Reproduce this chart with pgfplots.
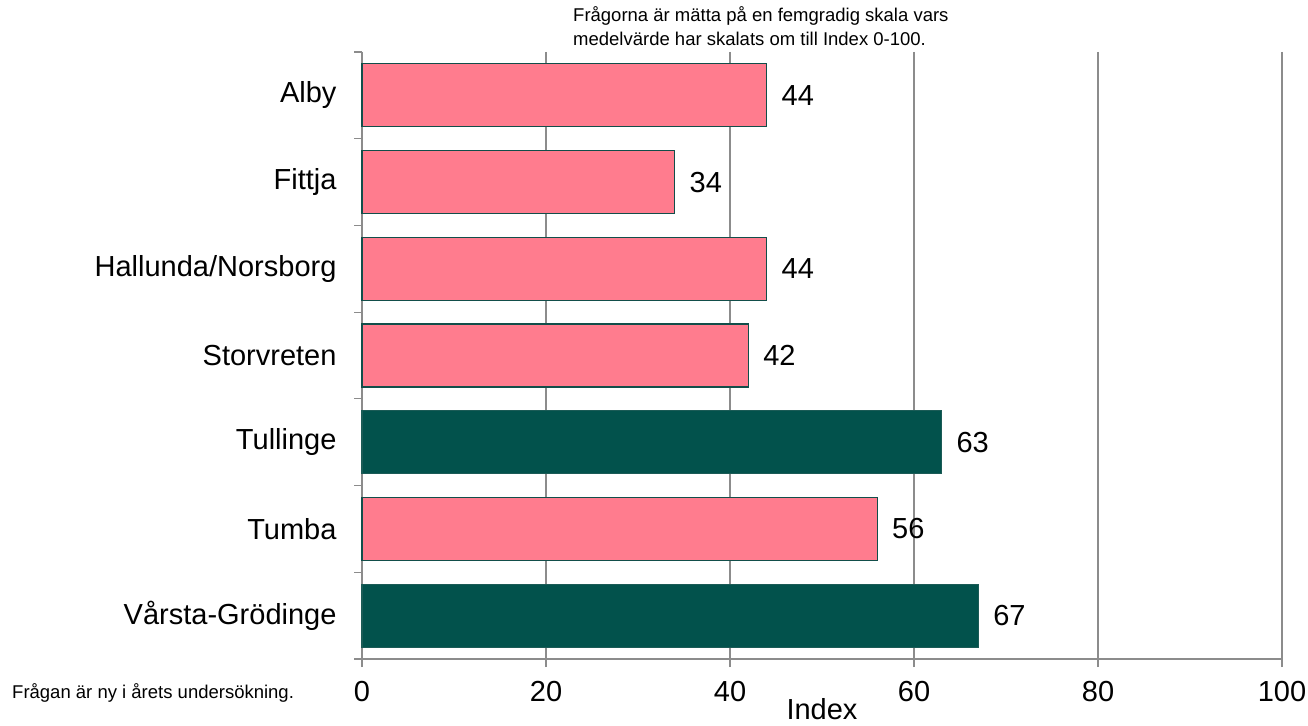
\documentclass[border=0pt]{standalone}
\usepackage{fontspec}
\setmainfont{Liberation Sans}
\usepackage{pgfplots}
\pgfplotsset{compat=1.18}
\definecolor{pinkbar}{RGB}{255,124,142}
\definecolor{greenbar}{RGB}{2,82,76}
\definecolor{edge}{RGB}{18,78,74}
\definecolor{gridgray}{RGB}{140,140,140}
\begin{document}
\begin{tikzpicture}[x=1pt,y=1pt]
\useasboundingbox (0,0) rectangle (1308,725);
\begin{axis}[
  at={(362pt,66pt)}, anchor=south west,
  scale only axis, width=920pt, height=607pt,
  /pgf/number format/assume math mode=true,
  xmin=0, xmax=100, ymin=-0.5, ymax=6.5, y dir=reverse,
  axis lines*=left,
  axis line style={gridgray, line width=1.2pt},
  xtick={0,20,...,100},
  xmajorgrids, grid style={gridgray, line width=1.2pt},
  tick style={gridgray, line width=1.2pt},
  major tick length=8pt, tick align=outside,
  ytick={-0.5,0.5,...,6.5}, yticklabels={},
  extra y ticks={0,1,2,3,4,5,6},
  extra y tick labels={Alby,Fittja,Hallunda/Norsborg,Storvreten,Tullinge,Tumba,Vårsta-Grödinge},
  extra y tick style={major tick length=0pt},
  ticklabel style={font=\fontsize{29}{29}\selectfont, text=black},
  yticklabel style={xshift=-22pt},
  xticklabel style={yshift=-11pt},
  xlabel={Index},
  xlabel style={font=\fontsize{29}{29}\selectfont, yshift=10pt},
  clip=false,
]
\addplot[xbar, bar width=63pt, bar shift=0pt, fill=pinkbar, draw=edge, line width=1.2pt,
  point meta=x, nodes near coords,
  nodes near coords style={anchor=west, font=\fontsize{29}{29}\selectfont, text=black, xshift=11pt}]
  coordinates {(44,0) (34,1) (44,2) (42,3) (56,5)};
\addplot[xbar, bar width=63pt, bar shift=0pt, fill=greenbar, draw=greenbar!80!gray, line width=1.2pt,
  point meta=x, nodes near coords,
  nodes near coords style={anchor=west, font=\fontsize{29}{29}\selectfont, text=black, xshift=11pt}]
  coordinates {(63,4) (67,6)};
\end{axis}
\node[anchor=base west, inner sep=0pt, font=\fontsize{18.5}{22}\selectfont] at (573,703) {Frågorna är mätta på en femgradig skala vars};
\node[anchor=base west, inner sep=0pt, font=\fontsize{18.5}{22}\selectfont] at (573,679) {medelvärde har skalats om till Index 0-100.};
\node[anchor=base west, inner sep=0pt, font=\fontsize{18.5}{22}\selectfont] at (12,27) {Frågan är ny i årets undersökning.};
\end{tikzpicture}
\end{document}
